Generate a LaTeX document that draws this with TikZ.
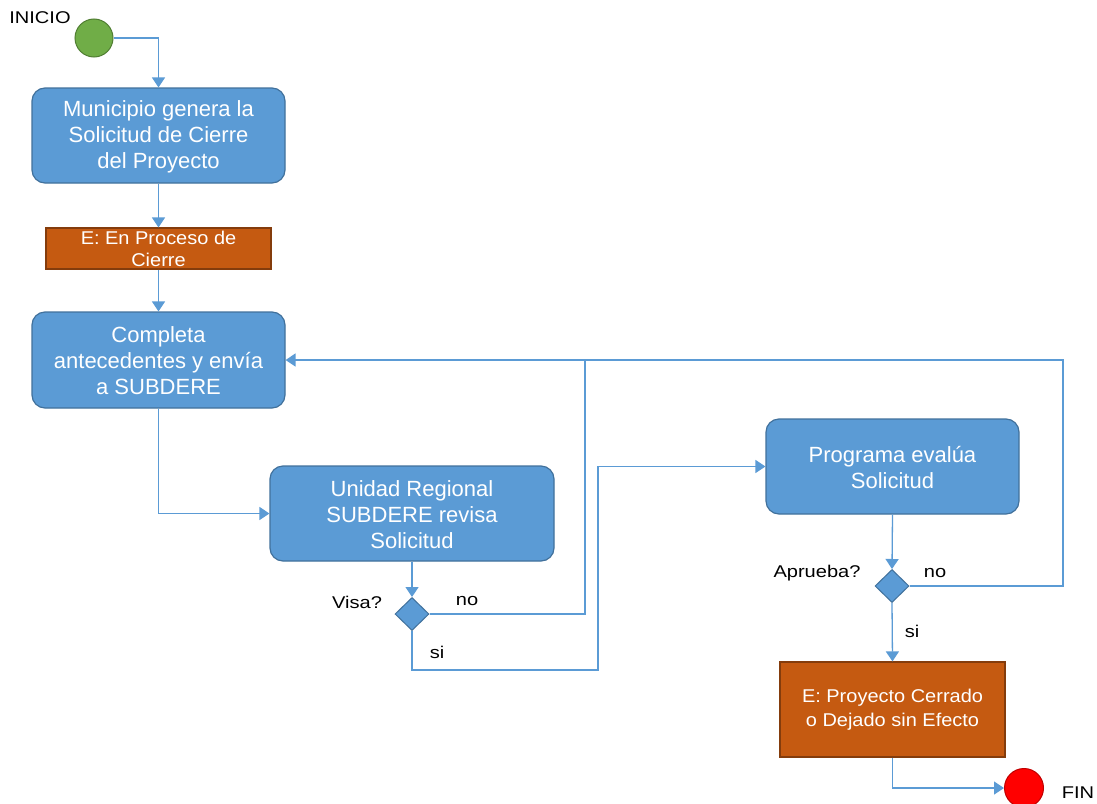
\documentclass[tikz,border=0pt]{standalone}
\usepackage{fontspec}
\setmainfont{Liberation Sans}
\newfontfamily\labelfont[FakeStretch=1.18]{Liberation Sans}
\newfontfamily\statefont[FakeStretch=1.08]{Liberation Sans}
\usetikzlibrary{arrows.meta,shapes.geometric}
\definecolor{actfill}{HTML}{5B9BD5}
\definecolor{actdraw}{HTML}{41719C}
\definecolor{flow}{HTML}{5B9BD5}
\definecolor{statefill}{HTML}{C55A11}
\definecolor{statedraw}{HTML}{843C0C}
\definecolor{startfill}{HTML}{70AD47}
\definecolor{startdraw}{HTML}{507E32}
\definecolor{endfill}{HTML}{FF0000}
\definecolor{enddraw}{HTML}{C00000}
\tikzset{
  act/.style={draw=actdraw, fill=actfill, line width=1.2pt, rounded corners=13pt,
    text=white, align=center, inner sep=0pt,
    font=\fontsize{22}{26}\selectfont},
  statebox/.style={draw=statedraw, fill=statefill, line width=1.2pt,
    text=white, align=center, inner sep=0pt,
    font=\statefont\fontsize{18.5}{22}\selectfont},
  decision/.style={diamond, draw=actdraw, fill=actfill, line width=1pt,
    minimum width=34pt, minimum height=33pt, inner sep=0pt},
  startdot/.style={circle, draw=startdraw, fill=startfill, line width=1pt,
    minimum size=38pt, inner sep=0pt},
  enddot/.style={circle, draw=enddraw, fill=endfill, line width=1pt,
    minimum size=39pt, inner sep=0pt},
  lbl/.style={text=black, inner sep=0pt, font=\labelfont\fontsize{17}{20}\selectfont},
  flowline/.style={draw=flow, line width=1.3pt},
  flowarrow/.style={flowline, -{Triangle[length=10pt,width=13pt]}}
}
\begin{document}
\begin{tikzpicture}[x=1pt,y=-1pt]
\useasboundingbox[fill=white] (0,0) rectangle (1097,803);

% start / end markers
\node[startdot] (ini) at (94,38) {};
\node[lbl] (tini) at (40,18) {INICIO};
\node[enddot] (fin) at (1024,788) {};
\node[lbl] (tfin) at (1078,793) {FIN};

% activities
\node[act, minimum width=253pt, minimum height=95pt] (b1) at (158.5,135.5)
  {\strut Municipio genera la\\Solicitud de Cierre\\del Proyecto};
\node[statebox, minimum width=225pt, minimum height=41pt] (o1) at (158.5,248.5)
  {E: En Proceso de\\Cierre};
\node[act, minimum width=253pt, minimum height=96pt] (b2) at (158.5,360)
  {\strut Completa\\antecedentes y envía\\a SUBDERE};
\node[act, minimum width=284pt, minimum height=95pt] (b3) at (412,513.5)
  {\strut Unidad Regional\\SUBDERE revisa\\Solicitud};
\node[act, minimum width=253pt, minimum height=95pt] (b4) at (892.5,466.5)
  {\strut Programa evalúa\\Solicitud};
\node[statebox, minimum width=225pt, minimum height=95pt,
  font=\statefont\fontsize{18.5}{24}\selectfont] (o2) at (892.5,709.5)
  {E: Proyecto Cerrado\\o Dejado sin Efecto};

% decisions
\node[decision] (d1) at (412,614) {};
\node[decision] (d2) at (892,586) {};
\node[lbl] (tvisa) at (357,602) {Visa?};
\node[lbl] (tno1) at (467,601) {no};
\node[lbl] (tsi1) at (437,652) {si};
\node[lbl] (tapr) at (817,573) {Aprueba?};
\node[lbl] (tno2) at (935,573) {no};
\node[lbl] (tsi2) at (912,631) {si};

% routing points
\coordinate (j1) at (585,360);
\coordinate (j2) at (1063,360);
\coordinate (k1) at (598,670);

% connectors
\draw[flowarrow] (ini.east) -| (b1.north);
\draw[flowarrow] (b1.south) -- (o1.north);
\draw[flowarrow] (o1.south) -- (b2.north);
\draw[flowarrow] (b2.south) |- (b3.west);
\draw[flowarrow] (b3.south) -- (d1.north);
\draw[flowline] (d1.east) -| (j1);
\draw[flowarrow] (d1.south) |- (k1) |- (b4.west);
\draw[flowarrow] (b4.south) -- (d2.north);
\draw[flowarrow] (d2.east) -| (j2) -- (b2.east);
\draw[flowarrow] (d2.south) -- (o2.north);
\draw[flowarrow] (o2.south) |- (fin.west);
\end{tikzpicture}
\end{document}
